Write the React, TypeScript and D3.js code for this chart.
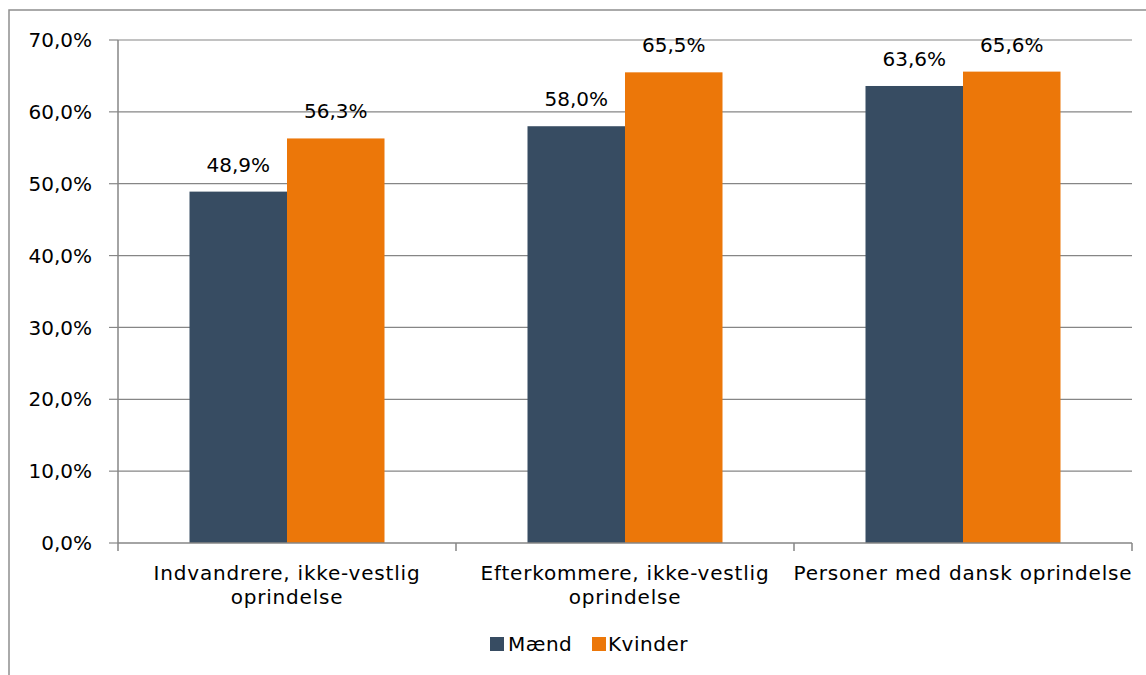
import React from "react";
import * as d3 from "d3";

const categories = [
  ["Indvandrere, ikke-vestlig", "oprindelse"],
  ["Efterkommere, ikke-vestlig", "oprindelse"],
  ["Personer med dansk oprindelse"],
];
const seriesNames = ["Mænd", "Kvinder"];
const maend = [48.9, 58.0, 63.6];
const kvinder = [56.3, 65.5, 65.6];
const yTicks = [0, 10, 20, 30, 40, 50, 60, 70];
const colors = ["#374C62", "#EC7709"];

const W = 1146, H = 675;
const left = 118, right = 1132, top = 40, bottom = 543;
const font = "Verdana, 'DejaVu Sans', sans-serif";
const fmt = (v: number) => v.toFixed(1).replace(".", ",") + "%";

export default function App() {
  const y = d3.scaleLinear().domain([0, 70]).range([bottom, top]);
  const x0 = d3.scaleBand().domain(categories.map((_, i) => String(i))).range([left, right]).paddingInner(0).paddingOuter(0);
  const groupW = 195;
  const x1 = d3.scaleBand().domain(seriesNames).range([0, groupW]);
  const series = [maend, kvinder];
  const gray = "#868686";
  return (
    <svg width={W} height={H} style={{ position: "absolute", left: 0, top: 0, background: "#fff" }} fontFamily={font}>
      <rect x={9} y={10} width={W + 20} height={H + 20} fill="#fff" stroke="#8e8e8e" strokeWidth={1.5} />
      {yTicks.map((t) => (
        <g key={t}>
          {t > 0 && <line x1={left} x2={right} y1={y(t)} y2={y(t)} stroke={gray} strokeWidth={1.2} />}
          <line x1={109} x2={left} y1={y(t)} y2={y(t)} stroke={gray} strokeWidth={1.2} />
          <text x={92} y={y(t)} dy="0.36em" textAnchor="end" fontSize={20} fill="#000">{fmt(t)}</text>
        </g>
      ))}
      {categories.map((c, i) => {
        const gx = x0(String(i))! + (x0.bandwidth() - groupW) / 2;
        return (
          <g key={i}>
            {series.map((s, j) => {
              const bx = gx + x1(seriesNames[j])!;
              return (
                <g key={j}>
                  <rect x={bx} y={y(s[i])} width={x1.bandwidth()} height={bottom - y(s[i])} fill={colors[j]} />
                  <text x={bx + x1.bandwidth() / 2} y={y(s[i]) - 20} textAnchor="middle" fontSize={20} fill="#000">{fmt(s[i])}</text>
                </g>
              );
            })}
            {c.map((line, k) => (
              <text key={k} x={x0(String(i))! + x0.bandwidth() / 2} y={580 + k * 24} textAnchor="middle" fontSize={20} letterSpacing={0.8} fill="#000">{line}</text>
            ))}
          </g>
        );
      })}
      <line x1={left} x2={left} y1={top} y2={bottom} stroke={gray} strokeWidth={1.5} />
      <line x1={left} x2={right} y1={bottom} y2={bottom} stroke={gray} strokeWidth={1.5} />
      {[0, 1, 2, 3].map((i) => {
        const xx = left + i * x0.bandwidth();
        return <line key={i} x1={xx} x2={xx} y1={bottom} y2={551} stroke={gray} strokeWidth={1.5} />;
      })}
      <g>
        <rect x={490} y={637} width={14} height={14} fill={colors[0]} />
        <text x={508} y={651} fontSize={20} letterSpacing={0.5} fill="#000">{seriesNames[0]}</text>
        <rect x={592} y={637} width={14} height={14} fill={colors[1]} />
        <text x={608} y={651} fontSize={20} letterSpacing={0.5} fill="#000">{seriesNames[1]}</text>
      </g>
    </svg>
  );
}
